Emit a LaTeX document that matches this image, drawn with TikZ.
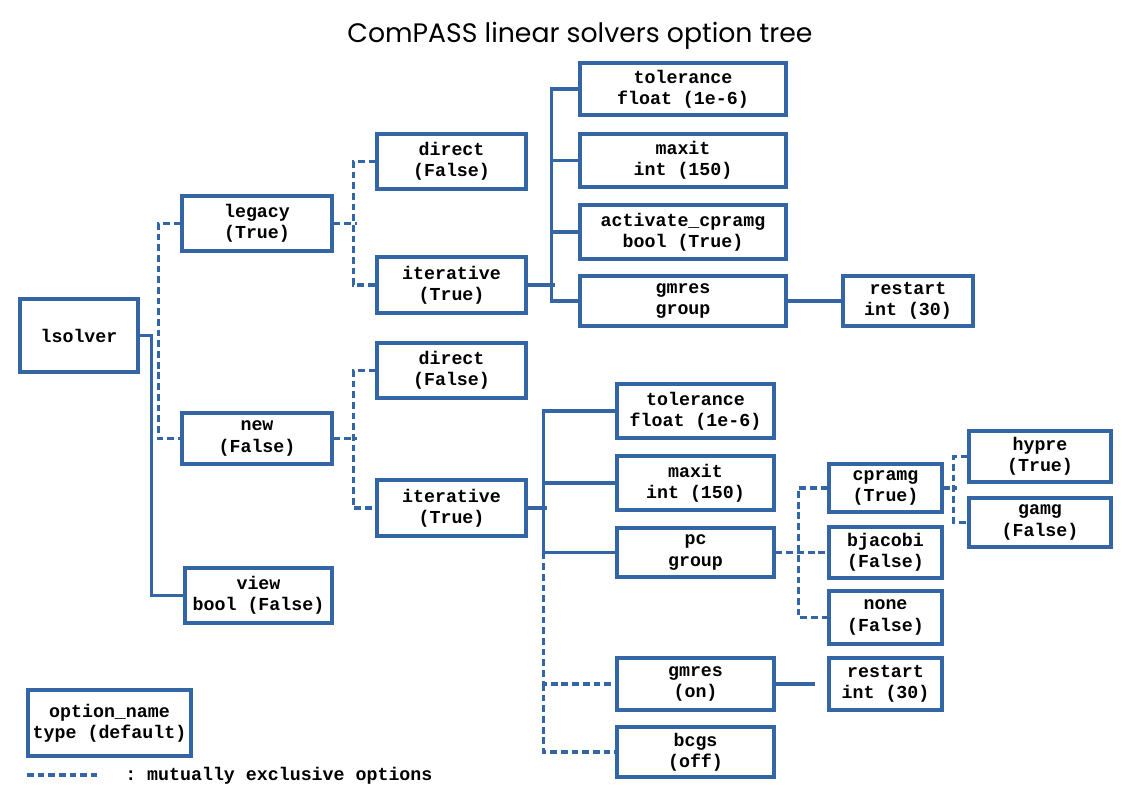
\documentclass[tikz,border=0pt]{standalone}
\usepackage{fontspec}
\setmonofont{Liberation Mono}
\newfontfamily\titlefont{Poppins}
\definecolor{lsblue}{HTML}{3465A4}
\tikzset{
    opt/.style={draw=lsblue, line width=2.4pt, align=center, inner sep=0pt,
        font=\ttfamily\bfseries\fontsize{13}{15}\selectfont},
    sz/.style 2 args={minimum width=#1*0.025cm, minimum height=#2*0.025cm},
    link/.style={draw=lsblue, line width=2.3pt},
    excl/.style={link, dash pattern=on 4.8pt off 2.8pt},
}
\begin{document}
\begin{tikzpicture}[x=0.025cm, y=-0.025cm]
        \useasboundingbox (0,0) rectangle (1123,794);
        \node[font=\titlefont\fontsize{19}{23}\selectfont] (title) at (580,36) {ComPASS linear solvers option tree};
        % options
        \node[opt, sz={118}{73}] (lsolver) at (79,335.5) {lsolver};
        \node[opt, sz={150}{55}] (legacy) at (257,223.5) {legacy\\(True)};
        \node[opt, sz={150}{51}] (new) at (257,438.5) {new\\(False)};
        \node[opt, sz={147}{55}] (view) at (258.5,595.5) {view\\bool (False)};
        \node[opt, sz={149}{55}] (ldirect) at (451.5,161.5) {direct\\(False)};
        \node[opt, sz={149}{56}] (literative) at (451.5,285) {iterative\\(True)};
        \node[opt, sz={149}{55}] (ndirect) at (451.5,370.5) {direct\\(False)};
        \node[opt, sz={149}{56}] (niterative) at (451.5,508) {iterative\\(True)};
        \node[opt, sz={206}{52}] (ltol) at (683,89) {tolerance\\float (1e-6)};
        \node[opt, sz={206}{53}] (lmaxit) at (683,160.5) {maxit\\int (150)};
        \node[opt, sz={206}{54}] (lact) at (683,232) {activate\_cpramg\\bool (True)};
        \node[opt, sz={206}{50}] (lgmres) at (683,301) {gmres\\group};
        \node[opt, sz={130}{50}] (lrestart) at (908,301) {restart\\int (30)};
        \node[opt, sz={157}{54}] (ntol) at (695.5,411) {tolerance\\float (1e-6)};
        \node[opt, sz={157}{54}] (nmaxit) at (695.5,483) {maxit\\int (150)};
        \node[opt, sz={157}{49}] (npc) at (695.5,552.5) {pc\\group};
        \node[opt, sz={157}{52}] (ngmres) at (695.5,684) {gmres\\(on)};
        \node[opt, sz={157}{50}] (nbcgs) at (695.5,752) {bcgs\\(off)};
        \node[opt, sz={113}{48}] (cpramg) at (885.5,488) {cpramg\\(True)};
        \node[opt, sz={113}{51}] (bjacobi) at (885.5,552.5) {bjacobi\\(False)};
        \node[opt, sz={113}{53}] (none) at (885.5,617.5) {none\\(False)};
        \node[opt, sz={113}{52}] (nrestart) at (885.5,684) {restart\\int (30)};
        \node[opt, sz={142}{51}] (hypre) at (1040,456.5) {hypre\\(True)};
        \node[opt, sz={142}{49}] (gamg) at (1040,522.5) {gamg\\(False)};
        % root
        \draw[link] (lsolver.east) -- ++(12,0) |- (view.west);
        \draw[excl] (legacy.west) -- ++(-22,0) |- (new.west);
        % direct / iterative
        \draw[excl] (legacy.east) -- ++(23,0);
        \draw[excl] (ldirect.west) -- ++(-22,0) |- (literative.west);
        \draw[excl] (new.east) -- ++(23,0);
        \draw[excl] (ndirect.west) -- ++(-22,0) |- (niterative.west);
        % legacy iterative
        \draw[link] (literative.east) -- ++(27,0);
        \draw[link] (ltol.west) -- ++(-27,0) |- (lgmres.west);
        \foreach \n in {lmaxit, lact} {
                \draw[link] (\n.west) -- ++(-27,0);
            }
        \draw[link] (lgmres.east) -- (lrestart.west);
        % new iterative
        \draw[link] (niterative.east) -- ++(19,0);
        \draw[link] (ntol.west) -- ++(-72,0) |- (npc.west);
        \draw[link] (nmaxit.west) -- ++(-72,0);
        \draw[excl] (npc.west) ++(-72,0) |- (ngmres.west);
        \draw[excl] (ngmres.west) ++(-72,0) |- (nbcgs.west);
        \draw[link] (ngmres.east) -- ([xshift=-0.3cm]nrestart.west);
        % pc
        \draw[excl] (npc.east) -- (bjacobi.west);
        \draw[excl] (cpramg.west) -- ++(-29,0) |- (none.west);
        \draw[excl] (cpramg.east) -- ++(13,0);
        \draw[excl] (hypre.west) -- ++(-14,0) |- (gamg.west);
        % legend
        \node[opt, sz={163}{66}] (key) at (109.5,723) {option\_name\\type (default)};
        \coordinate (keyline) at (27,775);
        \draw[excl] (keyline) -- ++(70,0);
        \node[anchor=west, inner sep=0pt, font=\ttfamily\bfseries\fontsize{13}{15}\selectfont] (keytext) at (125,776) {: mutually exclusive options};
    \end{tikzpicture}
\end{document}
